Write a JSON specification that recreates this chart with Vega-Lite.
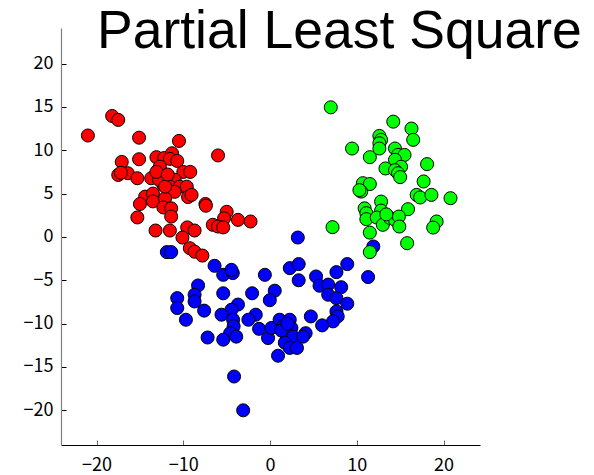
{
  "$schema": "https://vega.github.io/schema/vega-lite/v6.json",
  "width": 419,
  "height": 417,
  "autosize": "none",
  "padding": {"left": 61, "top": 28, "right": 114, "bottom": 30},
  "background": "white",
  "title": {
    "text": "Partial Least Square",
    "anchor": "start",
    "frame": "group",
    "dx": 36,
    "offset": -73,
    "baseline": "alphabetic",
    "font": "Liberation Sans",
    "fontSize": 53.5,
    "fontWeight": "normal",
    "color": "black"
  },
  "config": {
    "view": {"stroke": null},
    "axis": {
      "grid": false,
      "labelFont": "Noto Sans CJK JP",
      "labelFontSize": 18,
      "labelColor": "black",
      "tickSize": -5,
      "tickColor": "black",
      "domainColor": "black",
      "domainWidth": 1.2
    }
  },
  "data": {
    "values": [
      {"x": -18.2, "y": 13.95, "g": "c1"}, {"x": -17.5, "y": 13.5, "g": "c1"}, {"x": -21.0, "y": 11.7, "g": "c1"},
      {"x": -15.1, "y": 11.45, "g": "c1"}, {"x": -10.5, "y": 11.07, "g": "c1"}, {"x": -6.0, "y": 9.4, "g": "c1"},
      {"x": -17.1, "y": 8.65, "g": "c1"}, {"x": -15.1, "y": 8.96, "g": "c1"}, {"x": -13.1, "y": 9.2, "g": "c1"},
      {"x": -12.2, "y": 9.1, "g": "c1"}, {"x": -11.3, "y": 9.65, "g": "c1"}, {"x": -11.55, "y": 9.0, "g": "c1"},
      {"x": -10.7, "y": 8.77, "g": "c1"}, {"x": -17.5, "y": 7.15, "g": "c1"}, {"x": -16.4, "y": 7.35, "g": "c1"},
      {"x": -15.3, "y": 6.77, "g": "c1"}, {"x": -17.2, "y": 7.4, "g": "c1"}, {"x": -13.7, "y": 6.77, "g": "c1"},
      {"x": -12.9, "y": 7.7, "g": "c1"}, {"x": -12.7, "y": 8.1, "g": "c1"}, {"x": -10.0, "y": 7.5, "g": "c1"},
      {"x": -9.2, "y": 7.5, "g": "c1"}, {"x": -11.0, "y": 6.6, "g": "c1"}, {"x": -12.3, "y": 6.0, "g": "c1"},
      {"x": -11.55, "y": 5.8, "g": "c1"}, {"x": -10.4, "y": 5.8, "g": "c1"}, {"x": -9.6, "y": 5.8, "g": "c1"},
      {"x": -11.0, "y": 5.2, "g": "c1"}, {"x": -14.4, "y": 4.65, "g": "c1"}, {"x": -13.5, "y": 5.0, "g": "c1"},
      {"x": -15.0, "y": 3.8, "g": "c1"}, {"x": -13.5, "y": 4.1, "g": "c1"}, {"x": -12.1, "y": 4.45, "g": "c1"},
      {"x": -12.3, "y": 3.4, "g": "c1"}, {"x": -11.4, "y": 3.3, "g": "c1"}, {"x": -9.45, "y": 4.6, "g": "c1"},
      {"x": -9.05, "y": 4.85, "g": "c1"}, {"x": -11.4, "y": 2.35, "g": "c1"}, {"x": -15.3, "y": 2.25, "g": "c1"},
      {"x": -7.45, "y": 3.8, "g": "c1"}, {"x": -7.4, "y": 3.6, "g": "c1"}, {"x": -5.0, "y": 2.9, "g": "c1"},
      {"x": -5.3, "y": 2.15, "g": "c1"}, {"x": -3.7, "y": 1.97, "g": "c1"}, {"x": -2.25, "y": 1.78, "g": "c1"},
      {"x": -6.6, "y": 1.4, "g": "c1"}, {"x": -6.0, "y": 1.2, "g": "c1"}, {"x": -5.4, "y": 1.1, "g": "c1"},
      {"x": -13.2, "y": 0.74, "g": "c1"}, {"x": -11.55, "y": 0.74, "g": "c1"}, {"x": -9.55, "y": 1.1, "g": "c1"},
      {"x": -8.7, "y": 0.74, "g": "c1"}, {"x": -10.1, "y": -0.07, "g": "c1"}, {"x": -9.25, "y": -1.3, "g": "c1"},
      {"x": -8.7, "y": -1.7, "g": "c1"}, {"x": -7.8, "y": -2.15, "g": "c1"}, {"x": -12.8, "y": 6.6, "g": "c1"},
      {"x": -12.1, "y": 5.8, "g": "c1"}, {"x": -13.1, "y": 7.5, "g": "c1"}, {"x": -11.8, "y": 7.2, "g": "c1"},

      {"x": -11.9, "y": -1.75, "g": "c2"}, {"x": -11.4, "y": -1.75, "g": "c2"}, {"x": 3.2, "y": -0.07, "g": "c2"},
      {"x": -6.4, "y": -3.33, "g": "c2"}, {"x": -5.4, "y": -4.37, "g": "c2"}, {"x": -4.3, "y": -4.17, "g": "c2"},
      {"x": -0.6, "y": -4.37, "g": "c2"}, {"x": 2.27, "y": -3.6, "g": "c2"}, {"x": 3.3, "y": -3.13, "g": "c2"},
      {"x": 3.3, "y": -5.0, "g": "c2"}, {"x": 5.3, "y": -4.56, "g": "c2"}, {"x": 7.65, "y": -4.06, "g": "c2"},
      {"x": 8.9, "y": -3.13, "g": "c2"}, {"x": 11.3, "y": -4.63, "g": "c2"}, {"x": 5.7, "y": -5.63, "g": "c2"},
      {"x": 6.7, "y": -5.5, "g": "c2"}, {"x": 8.2, "y": -5.8, "g": "c2"}, {"x": 6.7, "y": -6.67, "g": "c2"},
      {"x": 7.65, "y": -7.06, "g": "c2"}, {"x": 8.9, "y": -7.7, "g": "c2"}, {"x": 7.65, "y": -8.6, "g": "c2"},
      {"x": 7.8, "y": -9.17, "g": "c2"}, {"x": 7.26, "y": -9.74, "g": "c2"}, {"x": 6.0, "y": -10.2, "g": "c2"},
      {"x": 4.7, "y": -9.17, "g": "c2"}, {"x": -8.3, "y": -5.6, "g": "c2"}, {"x": -8.7, "y": -6.67, "g": "c2"},
      {"x": -8.7, "y": -7.44, "g": "c2"}, {"x": -10.7, "y": -7.06, "g": "c2"}, {"x": -10.7, "y": -8.2, "g": "c2"},
      {"x": -7.6, "y": -8.5, "g": "c2"}, {"x": -9.7, "y": -9.55, "g": "c2"}, {"x": -5.4, "y": -6.5, "g": "c2"},
      {"x": -2.07, "y": -6.5, "g": "c2"}, {"x": 0.54, "y": -6.2, "g": "c2"}, {"x": -0.03, "y": -7.3, "g": "c2"},
      {"x": -3.7, "y": -7.8, "g": "c2"}, {"x": -4.45, "y": -8.4, "g": "c2"}, {"x": -5.6, "y": -8.97, "g": "c2"},
      {"x": -4.26, "y": -9.55, "g": "c2"}, {"x": -1.65, "y": -8.97, "g": "c2"}, {"x": -2.5, "y": -9.55, "g": "c2"},
      {"x": -4.2, "y": -10.3, "g": "c2"}, {"x": -4.6, "y": -11.1, "g": "c2"}, {"x": -3.9, "y": -11.5, "g": "c2"},
      {"x": -5.4, "y": -11.85, "g": "c2"}, {"x": -7.2, "y": -11.6, "g": "c2"}, {"x": -1.27, "y": -10.6, "g": "c2"},
      {"x": -0.23, "y": -11.66, "g": "c2"}, {"x": 0.16, "y": -10.5, "g": "c2"}, {"x": 1.1, "y": -9.55, "g": "c2"},
      {"x": 2.27, "y": -9.55, "g": "c2"}, {"x": 1.5, "y": -10.3, "g": "c2"}, {"x": 2.46, "y": -10.5, "g": "c2"},
      {"x": 1.9, "y": -11.3, "g": "c2"}, {"x": 2.65, "y": -11.5, "g": "c2"}, {"x": 1.7, "y": -12.2, "g": "c2"},
      {"x": 2.27, "y": -12.8, "g": "c2"}, {"x": 3.1, "y": -12.8, "g": "c2"}, {"x": 0.92, "y": -13.7, "g": "c2"},
      {"x": 4.1, "y": -11.1, "g": "c2"}, {"x": 3.8, "y": -11.5, "g": "c2"}, {"x": -4.15, "y": -16.1, "g": "c2"},
      {"x": -3.1, "y": -20.0, "g": "c2"}, {"x": 11.9, "y": -1.1, "g": "c2"}, {"x": -4.45, "y": -3.8, "g": "c2"},
      {"x": 1.3, "y": -10.8, "g": "c2"}, {"x": 2.0, "y": -10.0, "g": "c2"},

      {"x": 7.0, "y": 14.95, "g": "c3"}, {"x": 14.2, "y": 13.3, "g": "c3"}, {"x": 16.3, "y": 12.5, "g": "c3"},
      {"x": 16.5, "y": 11.2, "g": "c3"}, {"x": 12.6, "y": 11.65, "g": "c3"}, {"x": 12.8, "y": 11.2, "g": "c3"},
      {"x": 12.6, "y": 10.8, "g": "c3"}, {"x": 12.6, "y": 10.2, "g": "c3"}, {"x": 9.45, "y": 10.2, "g": "c3"},
      {"x": 11.5, "y": 9.2, "g": "c3"}, {"x": 14.4, "y": 10.2, "g": "c3"}, {"x": 14.75, "y": 9.46, "g": "c3"},
      {"x": 15.5, "y": 9.46, "g": "c3"}, {"x": 14.4, "y": 8.9, "g": "c3"}, {"x": 15.1, "y": 8.1, "g": "c3"},
      {"x": 13.3, "y": 7.9, "g": "c3"}, {"x": 14.4, "y": 7.7, "g": "c3"}, {"x": 14.75, "y": 7.35, "g": "c3"},
      {"x": 15.0, "y": 6.9, "g": "c3"}, {"x": 18.1, "y": 8.4, "g": "c3"}, {"x": 10.7, "y": 6.2, "g": "c3"},
      {"x": 11.5, "y": 6.1, "g": "c3"}, {"x": 10.5, "y": 5.23, "g": "c3"}, {"x": 17.7, "y": 6.4, "g": "c3"},
      {"x": 16.9, "y": 4.85, "g": "c3"}, {"x": 17.3, "y": 4.55, "g": "c3"}, {"x": 18.6, "y": 4.85, "g": "c3"},
      {"x": 20.8, "y": 4.47, "g": "c3"}, {"x": 12.8, "y": 4.08, "g": "c3"}, {"x": 10.9, "y": 3.3, "g": "c3"},
      {"x": 11.1, "y": 2.74, "g": "c3"}, {"x": 12.8, "y": 3.04, "g": "c3"}, {"x": 15.9, "y": 3.2, "g": "c3"},
      {"x": 11.1, "y": 2.05, "g": "c3"}, {"x": 12.3, "y": 2.24, "g": "c3"}, {"x": 13.0, "y": 1.4, "g": "c3"},
      {"x": 13.8, "y": 2.2, "g": "c3"}, {"x": 14.4, "y": 1.97, "g": "c3"}, {"x": 14.85, "y": 2.35, "g": "c3"},
      {"x": 14.9, "y": 1.2, "g": "c3"}, {"x": 11.5, "y": 0.5, "g": "c3"}, {"x": 7.2, "y": 1.13, "g": "c3"},
      {"x": 19.2, "y": 1.78, "g": "c3"}, {"x": 18.8, "y": 1.08, "g": "c3"}, {"x": 15.8, "y": -0.72, "g": "c3"},
      {"x": 11.5, "y": -1.75, "g": "c3"}, {"x": 10.3, "y": 5.4, "g": "c3"}, {"x": 13.4, "y": 2.6, "g": "c3"}
    ]
  },
  "mark": {"type": "point", "shape": "circle", "filled": true, "size": 170, "stroke": "black", "strokeWidth": 1, "opacity": 1},
  "encoding": {
    "x": {
      "field": "x", "type": "quantitative", "title": null,
      "scale": {"domain": [-24.1, 24.2], "nice": false, "zero": false},
      "axis": {"values": [-20, -10, 0, 10, 20], "labelPadding": 16, "domainColor": "black", "tickColor": "#666666"}
    },
    "y": {
      "field": "y", "type": "quantitative", "title": null,
      "scale": {"domain": [-24, 24.1], "nice": false, "zero": false},
      "axis": {"values": [-20, -15, -10, -5, 0, 5, 10, 15, 20], "labelPadding": 13, "domainColor": "#808080", "tickColor": "black"}
    },
    "fill": {
      "field": "g", "type": "nominal", "legend": null,
      "scale": {"domain": ["c1", "c2", "c3"], "range": ["#FF0000", "#0000FF", "#00FF00"]}
    }
  }
}
